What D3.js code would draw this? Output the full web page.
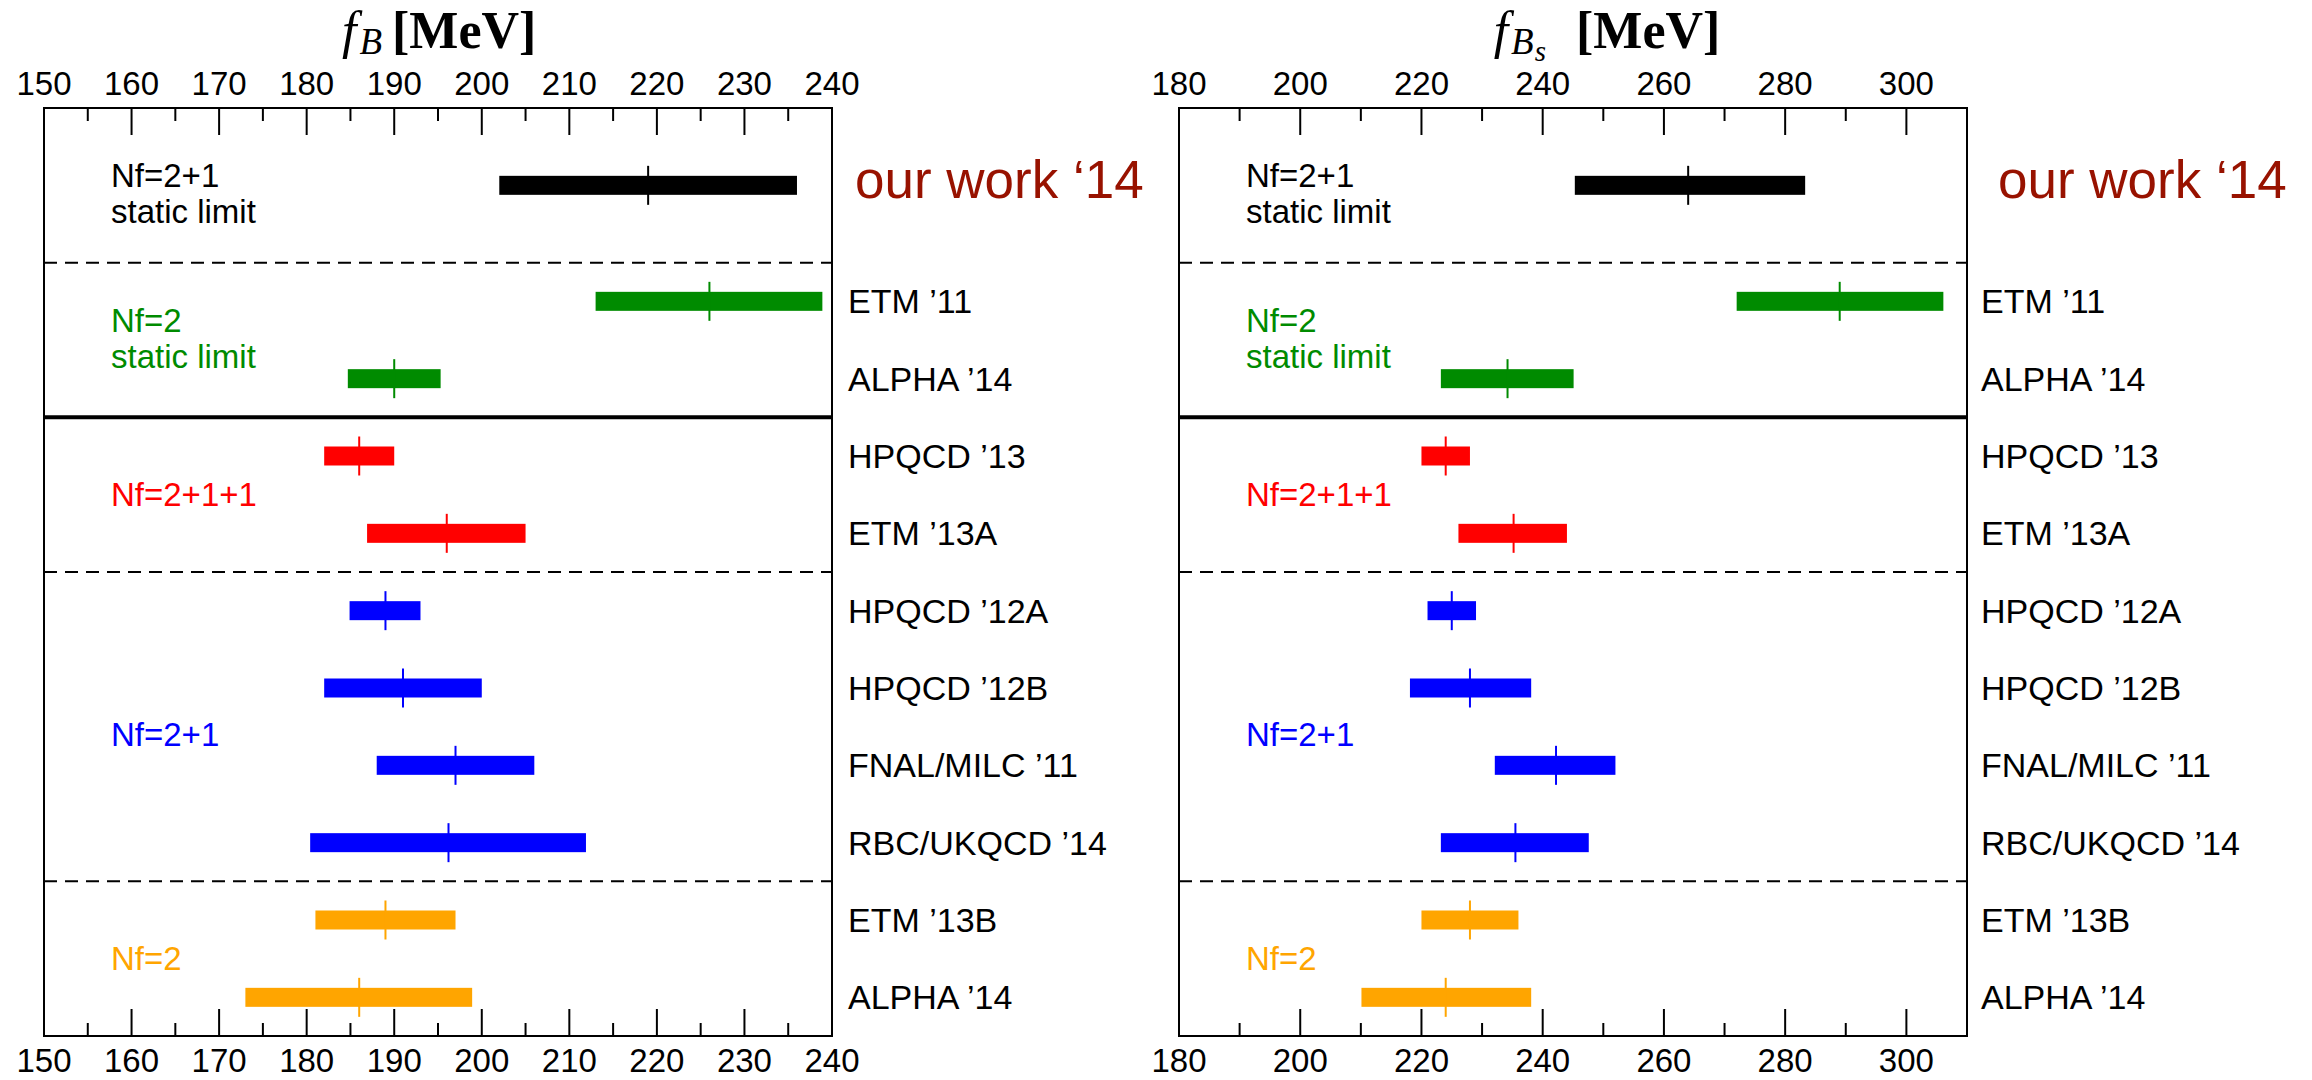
<!DOCTYPE html>
<html>
<head>
<meta charset="utf-8">
<script src="https://cdn.jsdelivr.net/npm/d3@7"></script>
<style>
  body { margin: 0; background: #fff; }
  svg text { font-family: "Liberation Sans", Arial, Helvetica, sans-serif; }
</style>
</head>
<body>
<svg id="chart" width="2312" height="1080"></svg>
<script>
// rows, top to bottom
const rowLabels = ["our work ‘14", "ETM ’11", "ALPHA ’14", "HPQCD ’13", "ETM ’13A",
                   "HPQCD ’12A", "HPQCD ’12B", "FNAL/MILC ’11", "RBC/UKQCD ’14", "ETM ’13B", "ALPHA ’14"];
const rowPos = [11.5, 10, 9, 8, 7, 6, 5, 4, 3, 2, 1];
const rowGroup = [0, 1, 1, 2, 2, 3, 3, 3, 3, 4, 4];

// f_B [MeV]
const fbCentral = [219, 226, 190, 186, 196, 189, 191, 197, 196.2, 189, 186];
const fbLow     = [202, 213, 184.7, 182, 186.9, 184.9, 182, 188, 180.4, 181, 173];
const fbHigh    = [236, 238.9, 195.3, 190, 205, 193, 200, 206, 211.9, 197, 198.9];

// f_Bs [MeV]
const fbsCentral = [264, 289, 234.2, 224, 235.2, 225, 228, 242.2, 235.5, 228, 224];
const fbsLow     = [245.3, 272, 223.2, 220, 226.1, 221, 218.1, 232.1, 223.2, 220, 210.1];
const fbsHigh    = [283.3, 306.1, 245.1, 228, 244, 229, 238.1, 252, 247.6, 236, 238.1];

// groups of simulations
const groupLines = [["Nf=2+1", "static limit"], ["Nf=2", "static limit"], ["Nf=2+1+1"], ["Nf=2+1"], ["Nf=2"]];
const groupColors = ["#000000", "#008b00", "#ff0000", "#0000ff", "#ffa500"];
const groupDy = [9, -1, 0, 8, 0];   // small nudges of the group labels

// separators between groups
const sepPos = [10.5, 8.5, 6.5, 2.5];
const sepDashed = [true, false, true, true];

// axes
const fbTicks = [150, 160, 170, 180, 190, 200, 210, 220, 230, 240];
const fbMinor = [155, 165, 175, 185, 195, 205, 215, 225, 235];
const fbsTicks = [180, 200, 220, 240, 260, 280, 300];
const fbsMinor = [190, 210, 230, 250, 270, 290];

const panels = [
  { left: 44, domain: [150, 240], central: fbCentral, low: fbLow, high: fbHigh,
    ticks: fbTicks, minor: fbMinor, sub: ["B"], labelDx: 16, ourDx: 23,
    bracketX: 392, fGap: 10 },
  { left: 1179, domain: [180, 310], central: fbsCentral, low: fbsLow, high: fbsHigh,
    ticks: fbsTicks, minor: fbsMinor, sub: ["B", "s"], labelDx: 14, ourDx: 31,
    bracketX: 1576, fGap: 30 }
];

const plotW = 788, plotTop = 108, plotBottom = 1036;
const svg = d3.select('#chart');

const y = d3.scaleLinear().domain([0.5, 12.5]).range([plotBottom, plotTop]);

panels.forEach(function (p) {
  const x = d3.scaleLinear().domain(p.domain).range([p.left, p.left + plotW]);
  const g = svg.append('g');

  // separators
  sepPos.forEach(function (s, i) {
    g.append('line')
      .attr('x1', p.left).attr('x2', p.left + plotW)
      .attr('y1', y(s)).attr('y2', y(s))
      .attr('stroke', '#000')
      .attr('stroke-width', sepDashed[i] ? 2 : 4)
      .attr('stroke-dasharray', sepDashed[i] ? '13,8' : null);
  });

  // ticks top and bottom
  const tickData = p.ticks.map(function (t) { return { v: t, len: 27 }; })
    .concat(p.minor.map(function (t) { return { v: t, len: 13 }; }));
  tickData.forEach(function (t) {
    g.append('line').attr('x1', x(t.v)).attr('x2', x(t.v))
      .attr('y1', plotTop).attr('y2', plotTop + t.len)
      .attr('stroke', '#000').attr('stroke-width', 2);
    g.append('line').attr('x1', x(t.v)).attr('x2', x(t.v))
      .attr('y1', plotBottom).attr('y2', plotBottom - t.len)
      .attr('stroke', '#000').attr('stroke-width', 2);
  });

  // tick labels
  g.selectAll('text.tt').data(p.ticks).enter().append('text')
    .attr('x', function (d) { return x(d); }).attr('y', 95)
    .attr('text-anchor', 'middle').attr('font-size', 33).text(function (d) { return d; });
  g.selectAll('text.tb').data(p.ticks).enter().append('text')
    .attr('x', function (d) { return x(d); }).attr('y', 1072)
    .attr('text-anchor', 'middle').attr('font-size', 33).text(function (d) { return d; });

  // bars
  rowPos.forEach(function (r, i) {
    const col = groupColors[rowGroup[i]];
    g.append('rect')
      .attr('x', x(p.low[i])).attr('width', x(p.high[i]) - x(p.low[i]))
      .attr('y', y(r) - 9.5).attr('height', 19)
      .attr('fill', col);
    g.append('line')
      .attr('x1', x(p.central[i])).attr('x2', x(p.central[i]))
      .attr('y1', y(r) - 19.5).attr('y2', y(r) + 19.5)
      .attr('stroke', col).attr('stroke-width', 2);
  });

  // row labels
  rowPos.forEach(function (r, i) {
    if (i === 0) {
      g.append('text')
        .attr('x', p.left + plotW + p.ourDx).attr('y', y(r) + 13)
        .attr('font-size', 53).attr('fill', '#981200')
        .text(rowLabels[i]);
    } else {
      g.append('text')
        .attr('x', p.left + plotW + p.labelDx).attr('y', y(r) + 12)
        .attr('font-size', 34).attr('fill', '#000')
        .text(rowLabels[i]);
    }
  });

  // group annotations
  groupLines.forEach(function (lines, gi) {
    const rows = rowPos.filter(function (r, i) { return rowGroup[i] === gi; });
    const cy = y(d3.mean(rows)) + groupDy[gi];
    const lineH = 36;
    const first = cy + 11 - (lines.length - 1) * lineH / 2;
    lines.forEach(function (t, li) {
      g.append('text')
        .attr('x', p.left + 67).attr('y', first + li * lineH)
        .attr('font-size', 33).attr('fill', groupColors[gi])
        .text(t);
    });
  });

  // frame
  g.append('rect')
    .attr('x', p.left).attr('y', plotTop)
    .attr('width', plotW).attr('height', plotBottom - plotTop)
    .attr('fill', 'none').attr('stroke', '#000').attr('stroke-width', 2);

  // title: italic symbol, then bold unit
  const serif = '"Liberation Serif", "Times New Roman", serif';
  const sym = g.append('text')
    .attr('x', p.bracketX - p.fGap).attr('y', 48)
    .attr('text-anchor', 'end')
    .style('font-family', serif).attr('font-style', 'italic');
  sym.append('tspan').attr('font-size', 52).text('f');
  sym.append('tspan').attr('font-size', 37).attr('dy', 6).attr('dx', 3).text(p.sub[0]);
  if (p.sub.length > 1) {
    sym.append('tspan').attr('font-size', 29).attr('dy', 7).attr('dx', 1).text(p.sub[1]);
  }
  g.append('text')
    .attr('x', p.bracketX).attr('y', 48)
    .style('font-family', serif)
    .attr('font-weight', 'bold').attr('font-size', 52)
    .text('[MeV]');
});
</script>
</body>
</html>
